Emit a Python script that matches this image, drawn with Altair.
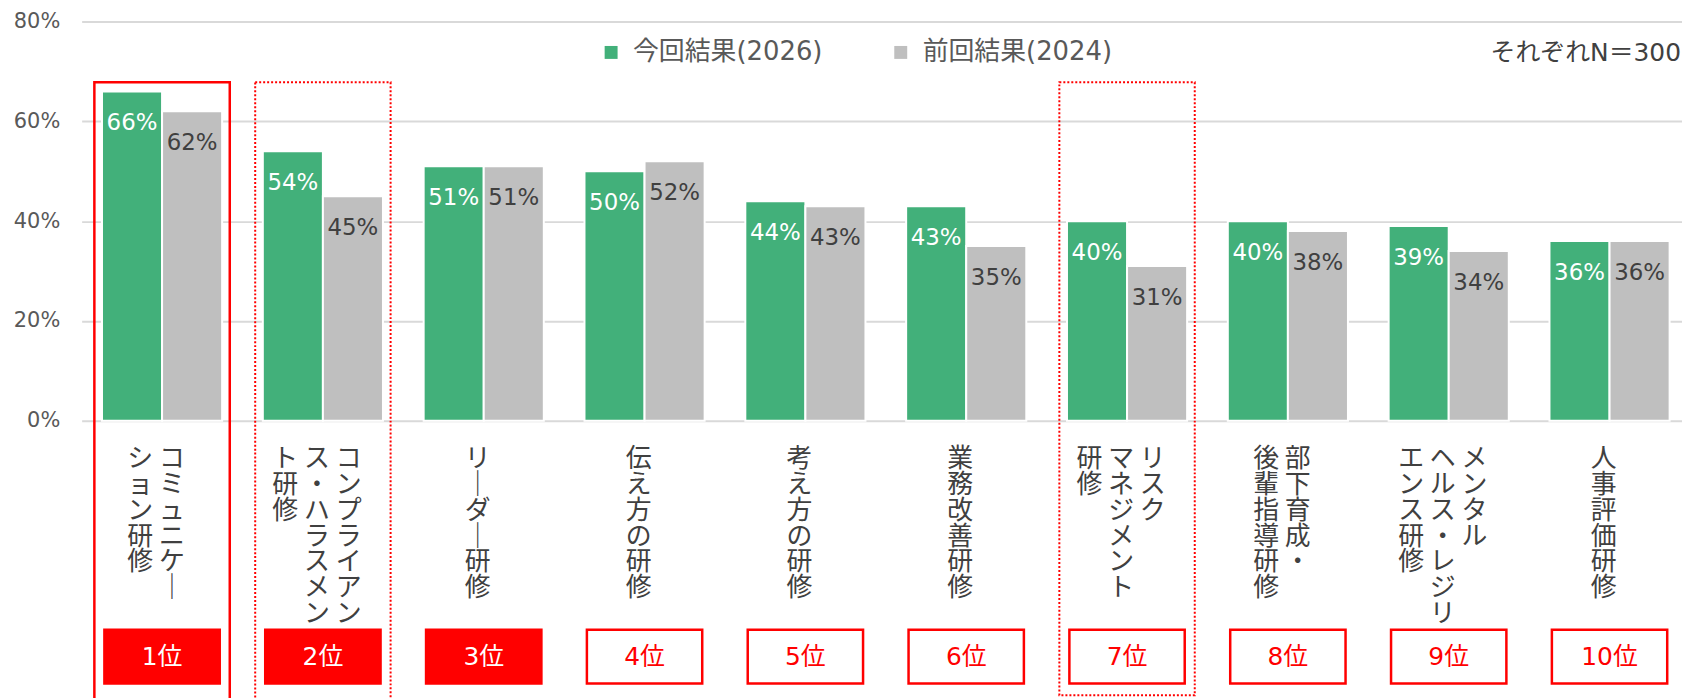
import json
import altair as alt
import pandas as pd

# ---------------- data ----------------
categories = [
    "コミュニケーション研修",
    "コンプライアンス・ハラスメント研修",
    "リーダー研修",
    "伝え方の研修",
    "考え方の研修",
    "業務改善研修",
    "リスクマネジメント研修",
    "部下育成・後輩指導研修",
    "メンタルヘルス・レジリエンス研修",
    "人事評価研修",
]
# vertical (tategaki) label columns, right column first
label_columns = [
    ["コミュニケー", "ション研修"],
    ["コンプライアン", "ス・ハラスメン", "ト研修"],
    ["リーダー研修"],
    ["伝え方の研修"],
    ["考え方の研修"],
    ["業務改善研修"],
    ["リスク", "マネジメント", "研修"],
    ["部下育成・", "後輩指導研修"],
    ["メンタル", "ヘルス・レジリ", "エンス研修"],
    ["人事評価研修"],
]
series_names = ["今回結果(2026)", "前回結果(2024)"]
current = [0.66, 0.54, 0.51, 0.50, 0.44, 0.43, 0.40, 0.40, 0.39, 0.36]
previous = [0.62, 0.45, 0.51, 0.52, 0.43, 0.35, 0.31, 0.38, 0.34, 0.36]
ranks = [1, 2, 3, 4, 5, 6, 7, 8, 9, 10]
solid_highlight = ["コミュニケーション研修"]
dotted_open_highlight = ["コンプライアンス・ハラスメント研修"]
dotted_closed_highlight = ["リスクマネジメント研修"]
note_text = ["それぞれN＝300"]

GREEN = "#42B07A"
GREY = "#BFBFBF"
RED = "#FF0000"
LATIN = "DejaVu Sans, Noto Sans CJK JP"
CJK = "Noto Sans CJK JP"
ZW = "\u200b"  # keeps the ideographic-space padding from being trimmed


def vertical_lines(cols):
    cols = [c.replace("ー", "｜") for c in cols]
    n = max(len(c) for c in cols)
    lines = []
    for r in range(n):
        chars = [c[r] if r < len(c) else "\u3000" for c in reversed(cols)]
        lines.append(ZW + " ".join(chars) + ZW)
    return lines


label_map = {cat: vertical_lines(cols) for cat, cols in zip(categories, label_columns)}
label_expr = json.dumps(label_map, ensure_ascii=False) + "[datum.label]"

rows = []
for cat, c, p in zip(categories, current, previous):
    rows.append({"category": cat, "series": series_names[0], "value": c})
    rows.append({"category": cat, "series": series_names[1], "value": p})
df = pd.DataFrame(rows)

rank_df = pd.DataFrame({
    "category": categories,
    "rank": ranks,
    "rank_label": [f"{r}位" for r in ranks],
})

x_scale = alt.Scale(domain=categories, range=[0, 1616], paddingInner=0.253, paddingOuter=0.1265)
y_scale = alt.Scale(domain=[0, 0.8])

x_axis = alt.Axis(
    labelExpr=label_expr,
    labelFont=CJK,
    labelFontSize=26,
    labelLineHeight=26,
    labelColor="#404040",
    labelBaseline="top",
    labelAlign="center",
    labelAngle=0,
    labelPadding=25,
    labelOffset=-6,
    labelOverlap=False,
    labelLimit=400,
    domain=False,
    ticks=False,
    tickSize=0,
    grid=False,
)
y_axis = alt.Axis(
    format=".0%",
    values=[0, 0.2, 0.4, 0.6, 0.8],
    labelFont=LATIN,
    labelFontSize=21,
    labelColor="#595959",
    labelPadding=22,
    domain=False,
    ticks=False,
    grid=True,
    gridColor="#D9D9D9",
    gridWidth=2,
)

X = alt.X("category:N", scale=x_scale, sort=categories, axis=x_axis, title=None)
XC = alt.X("category:N", scale=x_scale, sort=categories)
XO = alt.XOffset("series:N", sort=series_names, scale=alt.Scale(paddingInner=0, paddingOuter=0))

bars = alt.Chart(df).mark_bar(stroke="white", strokeWidth=2).encode(
    x=X,
    xOffset=XO,
    y=alt.Y("value:Q", scale=y_scale, axis=y_axis, title=None),
    color=alt.Color(
        "series:N",
        scale=alt.Scale(domain=series_names, range=[GREEN, GREY]),
        title=None,
        legend=alt.Legend(
            orient="none",
            legendX=519,
            legendY=18,
            direction="horizontal",
            symbolType="square",
            symbolSize=169,
            symbolStrokeWidth=0,
            labelFont=LATIN,
            labelFontSize=26,
            labelColor="#595959",
            labelOffset=9,
            columnPadding=65,
            padding=0,
            labelLimit=400,
        ),
    ),
)

labels = alt.Chart(df).mark_text(baseline="middle", dy=32, fontSize=23, font=LATIN).encode(
    x=X,
    xOffset=XO,
    y=alt.Y("value:Q", scale=y_scale),
    text=alt.Text("value:Q", format=".0%"),
    color=alt.condition(alt.datum.series == series_names[0], alt.value("white"), alt.value("#404040")),
)

hl_solid = alt.Chart(pd.DataFrame({"category": solid_highlight})).mark_bar(
    fill="transparent", stroke=RED, strokeWidth=2.5, width=alt.RelativeBandSize(1.127)
).encode(x=XC, y=alt.value(61), y2=alt.value(690))

hl_dotted_open = alt.Chart(pd.DataFrame({"category": dotted_open_highlight})).mark_bar(
    fill="transparent", stroke=RED, strokeWidth=2, strokeDash=[2, 2], width=alt.RelativeBandSize(1.127)
).encode(x=XC, y=alt.value(61), y2=alt.value(690))

hl_dotted_closed = alt.Chart(pd.DataFrame({"category": dotted_closed_highlight})).mark_bar(
    fill="transparent", stroke=RED, strokeWidth=2, strokeDash=[2, 2], width=alt.RelativeBandSize(1.127)
).encode(x=XC, y=alt.value(61), y2=alt.value(677))

boxes = alt.Chart(rank_df).mark_bar(
    stroke=RED, strokeWidth=2.5, width=alt.RelativeBandSize(0.96)
).encode(
    x=XC,
    y=alt.value(611),
    y2=alt.value(665),
    fill=alt.condition("datum.rank <= 3", alt.value(RED), alt.value("white")),
)

box_text = alt.Chart(rank_df).mark_text(baseline="middle", fontSize=25, font=LATIN).encode(
    x=XC,
    y=alt.value(638),
    text="rank_label:N",
    color=alt.condition("datum.rank <= 3", alt.value("white"), alt.value(RED)),
)

note = alt.Chart(pd.DataFrame({"t": note_text})).mark_text(
    align="right", baseline="middle", fontSize=25, font=LATIN, color="#404040"
).encode(x=alt.value(1607), y=alt.value(32), text="t:N")

chart = alt.layer(
    bars, labels, hl_solid, hl_dotted_open, hl_dotted_closed, boxes, box_text, note
).properties(
    width=1606,
    height=401,
    padding={"left": 74, "top": 12, "right": 2, "bottom": 277},
    autosize=alt.AutoSizeParams(type="none"),
).configure_view(strokeWidth=0)

chart.save("out.html", embed_options={"renderer": "svg", "actions": False})
